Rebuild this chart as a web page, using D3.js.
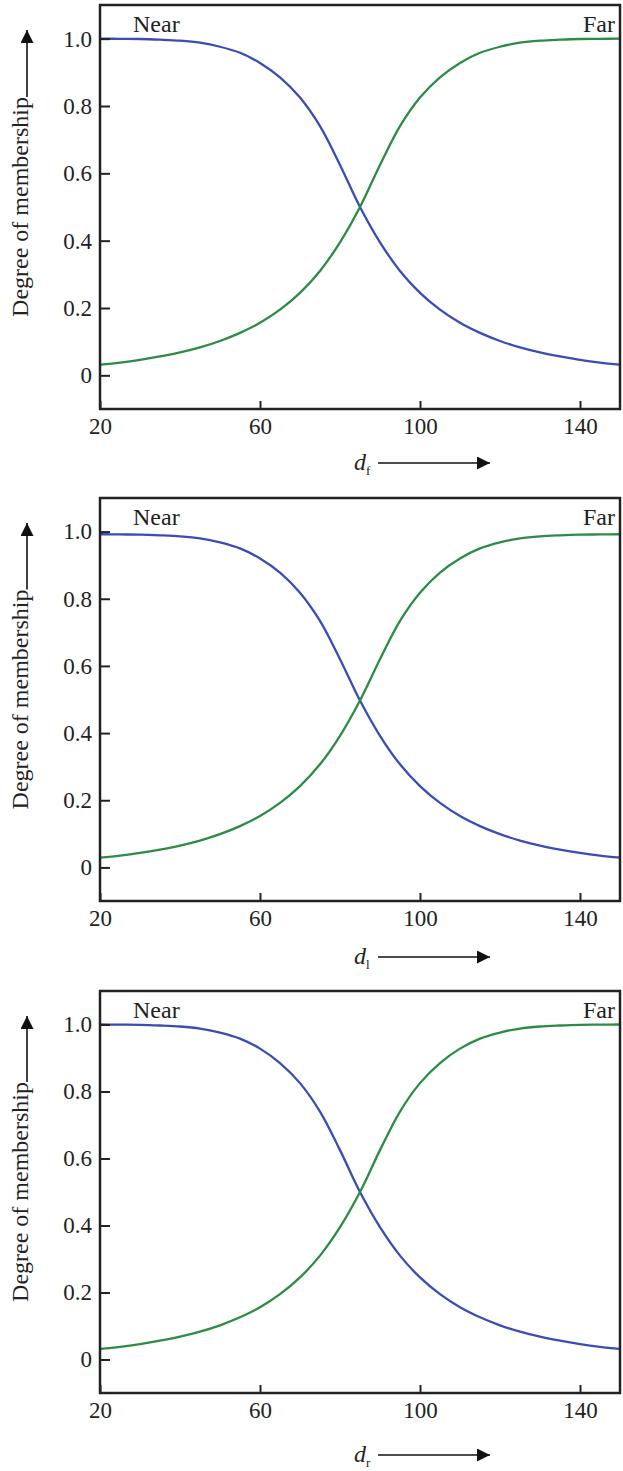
<!DOCTYPE html>
<html>
<head>
<meta charset="utf-8">
<script src="https://cdn.jsdelivr.net/npm/d3@7"></script>
<style>
  html, body { margin: 0; padding: 0; background: #fff; }
  svg text { font-family: "Liberation Serif", "Times New Roman", serif; fill: #222; }
</style>
</head>
<body>
<div id="chart"></div>
<script>
// distance samples shared by the three panels
const distances = [20, 25, 30, 35, 40, 45, 50, 55, 60, 65, 70, 75, 80, 85, 90, 95, 100, 105, 110, 115, 120, 125, 130, 135, 140, 145, 150];

// membership values (front, left, right)
const nearFront = [1.0, 0.9995, 0.999, 0.997, 0.994, 0.988, 0.976, 0.958, 0.928, 0.885, 0.825, 0.74, 0.625, 0.5, 0.395, 0.31, 0.245, 0.195, 0.156, 0.126, 0.102, 0.083, 0.068, 0.056, 0.046, 0.038, 0.032];
const farFront  = [0.032, 0.038, 0.046, 0.056, 0.068, 0.083, 0.102, 0.126, 0.156, 0.195, 0.245, 0.31, 0.395, 0.5, 0.625, 0.74, 0.825, 0.885, 0.928, 0.958, 0.976, 0.988, 0.994, 0.997, 0.999, 0.9995, 1.0];
const nearLeft  = [0.992, 0.9915, 0.991, 0.989, 0.986, 0.98, 0.968, 0.95, 0.92, 0.878, 0.818, 0.734, 0.62, 0.497, 0.392, 0.307, 0.242, 0.192, 0.153, 0.123, 0.099, 0.08, 0.065, 0.053, 0.043, 0.035, 0.029];
const farLeft   = [0.029, 0.035, 0.043, 0.053, 0.065, 0.08, 0.099, 0.123, 0.153, 0.192, 0.242, 0.307, 0.392, 0.497, 0.62, 0.734, 0.818, 0.878, 0.92, 0.95, 0.968, 0.98, 0.986, 0.989, 0.991, 0.9915, 0.992];
const nearRight = [1.0, 0.9995, 0.999, 0.997, 0.994, 0.988, 0.976, 0.958, 0.928, 0.885, 0.825, 0.74, 0.625, 0.5, 0.395, 0.31, 0.245, 0.195, 0.156, 0.126, 0.102, 0.083, 0.068, 0.056, 0.046, 0.038, 0.032];
const farRight  = [0.032, 0.038, 0.046, 0.056, 0.068, 0.083, 0.102, 0.126, 0.156, 0.195, 0.245, 0.31, 0.395, 0.5, 0.625, 0.74, 0.825, 0.885, 0.928, 0.958, 0.976, 0.988, 0.994, 0.997, 0.999, 0.9995, 1.0];

const xTicks = [20, 60, 100, 140];
const yTicks = [0, 0.2, 0.4, 0.6, 0.8, 1.0];
const yTickLabels = ['0', '0.2', '0.4', '0.6', '0.8', '1.0'];
const subscripts = ['f', 'l', 'r'];

const panels = [
  { near: nearFront, far: farFront, sub: subscripts[0], top: 5, bottom: 409, titleGap: 54 },
  { near: nearLeft, far: farLeft, sub: subscripts[1], top: 498, bottom: 901, titleGap: 56 },
  { near: nearRight, far: farRight, sub: subscripts[2], top: 991, bottom: 1393, titleGap: 62 },
];

const width = 623, height = 1471;
const left = 100, right = 620;
const blue = '#3a4db5', green = '#2c8c45', ink = '#222';
const serif = '"Liberation Serif", "Times New Roman", serif';

const svg = d3.select('#chart').append('svg')
  .attr('width', width)
  .attr('height', height);

svg.append('defs').append('marker')
  .attr('id', 'head')
  .attr('viewBox', '0 0 10 10')
  .attr('refX', 10).attr('refY', 5)
  .attr('markerWidth', 17).attr('markerHeight', 13)
  .attr('markerUnits', 'userSpaceOnUse')
  .attr('orient', 'auto')
  .append('path')
  .attr('d', 'M0,0L10,5L0,10Z')
  .attr('fill', '#111');

const x = d3.scaleLinear().domain([20, 150]).range([left, right]);

panels.forEach(p => {
  const y = d3.scaleLinear().domain([-0.1, 1.1]).range([p.bottom, p.top]);
  const g = svg.append('g');

  const line = d3.line()
    .x((d, i) => x(distances[i]))
    .y(d => y(d))
    .curve(d3.curveCatmullRom.alpha(0.5));

  g.append('path').datum(p.near)
    .attr('d', line)
    .attr('fill', 'none')
    .attr('stroke', blue)
    .attr('stroke-width', 2.3);

  g.append('path').datum(p.far)
    .attr('d', line)
    .attr('fill', 'none')
    .attr('stroke', green)
    .attr('stroke-width', 2.3);

  // axes, ticks point inward
  const yAxis = g.append('g')
    .attr('transform', `translate(${left},0)`)
    .call(d3.axisLeft(y).tickValues(yTicks).tickSize(-10).tickPadding(8)
      .tickFormat((d, i) => yTickLabels[i]));
  const xAxis = g.append('g')
    .attr('transform', `translate(0,${p.bottom})`)
    .call(d3.axisBottom(x).tickValues(xTicks).tickSize(-8).tickPadding(9));

  [yAxis, xAxis].forEach(a => {
    a.select('.domain').remove();
    a.selectAll('line').attr('stroke', ink).attr('stroke-width', 2);
    a.selectAll('text')
      .attr('fill', ink)
      .style('font-size', '23px')
      .style('font-family', serif);
  });

  // frame
  g.append('rect')
    .attr('x', left).attr('y', p.top)
    .attr('width', right - left).attr('height', p.bottom - p.top)
    .attr('fill', 'none')
    .attr('stroke', ink)
    .attr('stroke-width', 2.5);

  g.append('text')
    .attr('x', 133).attr('y', p.top + 27)
    .style('font-size', '24px')
    .text('Near');
  g.append('text')
    .attr('x', 615).attr('y', p.top + 27)
    .attr('text-anchor', 'end')
    .style('font-size', '24px')
    .text('Far');

  // y title with upward arrow
  const mid = (p.top + p.bottom) / 2;
  const yTitle = g.append('text')
    .attr('transform', `translate(28,${mid}) rotate(-90)`)
    .attr('text-anchor', 'middle')
    .style('font-size', '24px')
    .text('Degree of membership');
  const half = yTitle.node().getComputedTextLength() / 2;
  g.append('line')
    .attr('x1', 27).attr('x2', 27)
    .attr('y1', mid - half).attr('y2', p.top + 25)
    .attr('stroke', '#111').attr('stroke-width', 1.6)
    .attr('marker-end', 'url(#head)');

  // x title with right arrow
  const ty = p.bottom + p.titleGap;
  const xt = g.append('text')
    .attr('x', 354).attr('y', ty + 7)
    .style('font-size', '24px');
  xt.append('tspan').style('font-style', 'italic').text('d');
  xt.append('tspan').attr('dy', 5).style('font-size', '13px').text(p.sub);
  g.append('line')
    .attr('x1', 378).attr('x2', 490)
    .attr('y1', ty).attr('y2', ty)
    .attr('stroke', '#111').attr('stroke-width', 1.6)
    .attr('marker-end', 'url(#head)');
});
</script>
</body>
</html>
